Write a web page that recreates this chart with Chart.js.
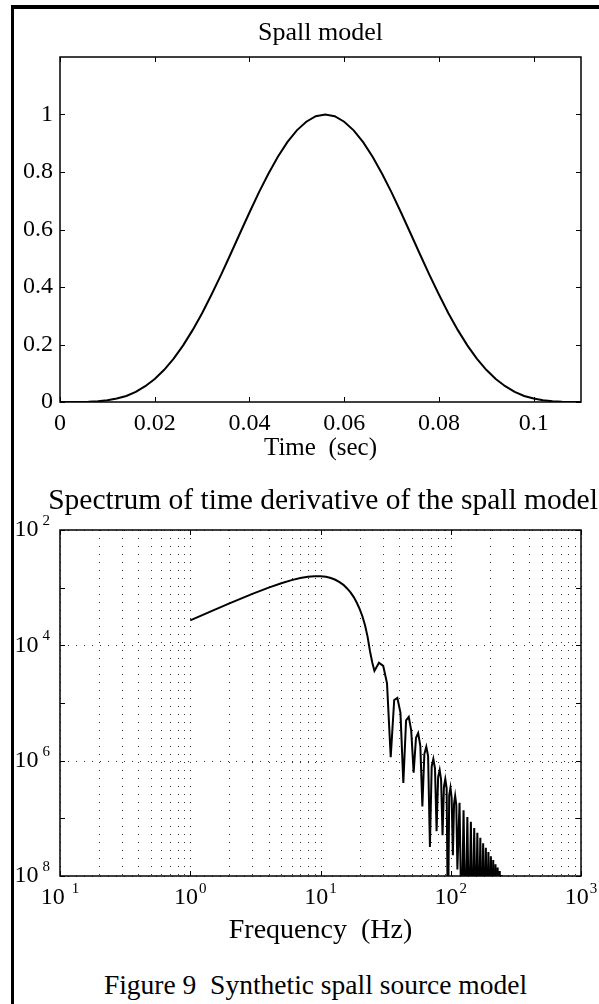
<!DOCTYPE html>
<html>
<head>
<meta charset="utf-8">
<title>Synthetic spall source model</title>
<script src="https://cdn.jsdelivr.net/npm/chart.js@4.4.0/dist/chart.umd.min.js"></script>
<style>
  html, body { margin: 0; padding: 0; background: #fff; }
  body { width: 599px; height: 1004px; position: relative; overflow: hidden; font-family: 'Liberation Serif', 'Times New Roman', serif; }
  #frame { position: absolute; left: 11px; top: 5px; width: 700px; height: 1100px; border-left: 3px solid #000; border-top: 4px solid #000; }
  .wrap { position: absolute; left: 0; width: 599px; }
  #spec-title { position: absolute; left: 0; width: 646px; top: 485px; text-align: center; font-size: 29.5px; line-height: 1; color: #000; white-space: nowrap; }
  #caption { position: absolute; left: 55px; width: 521px; top: 969px; text-align: center; font-size: 27.5px; color: #000; white-space: pre; }
</style>
</head>
<body>
<div id="frame"></div>
<div class="wrap" style="top:0;height:470px"><canvas id="spall" width="599" height="470"></canvas></div>
<div class="wrap" style="top:470px;height:490px"><canvas id="spectrum" width="599" height="490"></canvas></div>
<div id="spec-title">Spectrum of time derivative of the spall model</div>
<div id="caption">Figure 9  Synthetic spall source model</div>

<script>
const SERIF = "'Liberation Serif', 'Times New Roman', serif";

// top panel: spall pulse
const timeSec = [0, 0.002, 0.004, 0.006, 0.008, 0.010, 0.012, 0.014, 0.016, 0.018,
  0.020, 0.022, 0.024, 0.026, 0.028, 0.030, 0.032, 0.034, 0.036, 0.038,
  0.040, 0.042, 0.044, 0.046, 0.048, 0.050, 0.052, 0.054, 0.056, 0.058,
  0.060, 0.062, 0.064, 0.066, 0.068, 0.070, 0.072, 0.074, 0.076, 0.078,
  0.080, 0.082, 0.084, 0.086, 0.088, 0.090, 0.092, 0.094, 0.096, 0.098,
  0.100, 0.102, 0.104, 0.106, 0.108, 0.110];
const spallAmp = [0, 0, 0.0002, 0.0008, 0.0025, 0.006, 0.012, 0.021, 0.035, 0.055,
  0.080, 0.112, 0.151, 0.197, 0.250, 0.309, 0.374, 0.442, 0.514, 0.587,
  0.659, 0.729, 0.794, 0.853, 0.904, 0.945, 0.975, 0.994, 1.000, 0.994,
  0.975, 0.945, 0.904, 0.853, 0.794, 0.729, 0.659, 0.587, 0.514, 0.442,
  0.374, 0.309, 0.250, 0.197, 0.151, 0.112, 0.080, 0.055, 0.035, 0.021,
  0.012, 0.006, 0.0025, 0.0008, 0.0002, 0];
const timeTicks = [0, 0.02, 0.04, 0.06, 0.08, 0.1];
const ampTicks = [0, 0.2, 0.4, 0.6, 0.8, 1];

// bottom panel: spectrum of the time derivative
const specFreq = [1, 1.5, 2, 3, 4, 5, 6, 7, 8, 9, 10, 11, 12, 13, 14, 15, 16, 17, 18, 19,
  20, 21, 22, 23, 24, 25, 25.95,
  28.1, 30.3, 32.4, 34.6,
  36.8, 38.9, 41.1, 43.25,
  45.4, 47.6, 49.7, 51.9,
  54.1, 56.2, 58.4, 60.55,
  62.7, 64.9, 67.0, 69.2,
  71.4, 73.5, 75.7, 77.85,
  80.0, 82.2, 84.3, 86.5,
  88.7, 90.8, 93.0, 95.15,
  97.3, 99.5, 101.6, 103.8,
  106.0, 108.1, 110.3, 112.45,
  116.8, 121.1, 125.4, 129.75, 134.1, 138.4,
  142.7, 147.05, 151.4, 155.7, 160.0, 164.35, 168.7, 173.0, 177.3, 181.65,
  186.0, 190.3, 194.6, 198.95, 203.3, 207.6, 211.9, 216.25, 220.6, 224.9,
  229.2, 233.55, 237.9, 242.2, 246.5, 250.85, 255.2, 259.5];
const specAmp = [2.71e-4, 4.04e-4, 5.33e-4, 7.79e-4, 1.00e-3, 1.19e-3, 1.35e-3, 1.47e-3, 1.54e-3, 1.58e-3,
  1.58e-3, 1.54e-3, 1.47e-3, 1.37e-3, 1.25e-3, 1.12e-3, 9.70e-4, 8.28e-4, 6.85e-4, 5.48e-4,
  4.23e-4, 3.16e-4, 2.20e-4, 1.40e-4, 7.84e-5, 5.0e-5, 3.6e-5,
  5.0e-5, 4.4e-5, 2.2e-5, 1.15e-6,
  1.13e-5, 1.23e-5, 6.8e-6, 4.1e-7,
  5.0e-6, 5.75e-6, 3.35e-6, 6.2e-7,
  2.5e-6, 3.0e-6, 1.8e-6, 1.6e-7,
  1.3e-6, 1.74e-6, 1.2e-6, 3.2e-8,
  8.0e-7, 1.07e-6, 7.3e-7, 6.0e-8,
  5.2e-7, 6.9e-7, 4.7e-7, 5.1e-8,
  3.6e-7, 4.8e-7, 3.3e-7, 1e-9,
  2.5e-7, 3.4e-7, 2.3e-7, 2.3e-8,
  1.8e-7, 2.45e-7, 1.7e-7, 1.3e-8,
  1.86e-7, 1e-9, 1.38e-7, 1e-9, 1.05e-7, 1e-9,
  8.7e-8, 1e-9, 6.8e-8, 1e-9, 5.6e-8, 1e-9, 4.6e-8, 1e-9, 3.7e-8, 1e-9,
  3.1e-8, 1e-9, 2.6e-8, 1e-9, 2.2e-8, 1e-9, 1.9e-8, 1e-9, 1.6e-8, 1e-9,
  1.4e-8, 1e-9, 1.22e-8, 1e-9, 1.04e-8, 1e-9, 9e-9, 1e-9];
const freqTicks = [0.1, 1, 10, 100, 1000];
const freqTickExp = ['1', '0', '1', '2', '3'];
const specTicks = [1e-2, 1e-4, 1e-6, 1e-8];
const specTickExp = ['2', '4', '6', '8'];
const specTickMarks = [1e-2, 1e-3, 1e-4, 1e-5, 1e-6, 1e-7, 1e-8];

// dotted grid at every 1..9 x decade
const freqGrid = [];
freqTicks.slice(0, -1).forEach(d => { for (let k = 1; k < 10; k++) freqGrid.push(d * k); });
freqGrid.push(1000);

// frame, inward tick marks and dotted grid (MATLAB look)
const frameTicks = {
  id: 'frameTicks',
  beforeDatasetsDraw(chart, args, opts) {
    if (!opts.gridX) return;
    const { ctx, chartArea: a, scales: { x, y } } = chart;
    ctx.save();
    ctx.strokeStyle = '#333';
    ctx.lineWidth = 1;
    ctx.setLineDash([1, 7]);
    opts.gridX.forEach(v => {
      const px = Math.round(x.getPixelForValue(v)) + 0.5;
      ctx.beginPath(); ctx.moveTo(px, a.top); ctx.lineTo(px, a.bottom); ctx.stroke();
    });
    opts.gridY.forEach(v => {
      const py = Math.round(y.getPixelForValue(v)) + 0.5;
      ctx.beginPath(); ctx.moveTo(a.left, py); ctx.lineTo(a.right, py); ctx.stroke();
    });
    ctx.restore();
  },
  afterDatasetsDraw(chart, args, opts) {
    const { ctx, chartArea: a, scales: { x, y } } = chart;
    const len = 5;
    ctx.save();
    ctx.strokeStyle = '#000';
    ctx.lineWidth = 1.5;
    ctx.strokeRect(a.left, a.top, a.right - a.left, a.bottom - a.top);
    ctx.lineWidth = 1;
    ctx.beginPath();
    (opts.xTicks || []).forEach(v => {
      const px = Math.round(x.getPixelForValue(v)) + 0.5;
      ctx.moveTo(px, a.bottom); ctx.lineTo(px, a.bottom - len);
      ctx.moveTo(px, a.top); ctx.lineTo(px, a.top + len);
    });
    (opts.yTicks || []).forEach(v => {
      const py = Math.round(y.getPixelForValue(v)) + 0.5;
      ctx.moveTo(a.left, py); ctx.lineTo(a.left + len, py);
      ctx.moveTo(a.right, py); ctx.lineTo(a.right - len, py);
    });
    ctx.stroke();
    ctx.restore();
  }
};

// "10" with a raised exponent for the log axes
const logLabels = {
  id: 'logLabels',
  afterDraw(chart, args, opts) {
    if (!opts.x) return;
    const { ctx, chartArea: a, scales: { x, y } } = chart;
    const big = '24px ' + SERIF, small = '15px ' + SERIF;
    ctx.save();
    ctx.fillStyle = '#000';
    ctx.textBaseline = 'middle';
    ctx.textAlign = 'left';
    opts.x.values.forEach((v, i) => {
      const px = x.getPixelForValue(v);
      const exp = opts.x.exp[i];
      const gap = i === 0 ? 7 : 1;
      ctx.font = big; const w1 = ctx.measureText('10').width;
      ctx.font = small; const w2 = ctx.measureText(exp).width;
      const left = px - (w1 + gap + w2) / 2;
      ctx.font = big; ctx.fillText('10', left, a.bottom + 22);
      ctx.font = small; ctx.fillText(exp, left + w1 + gap, a.bottom + 13);
    });
    opts.y.values.forEach((v, i) => {
      const py = y.getPixelForValue(v);
      const exp = opts.y.exp[i];
      ctx.font = small; const w2 = ctx.measureText(exp).width;
      ctx.font = big; const w1 = ctx.measureText('10').width;
      const right = a.left - 10;
      ctx.fillText('10', right - w2 - 4 - w1, py);
      ctx.font = small; ctx.fillText(exp, right - w2, py - 9);
    });
    ctx.restore();
  }
};

Chart.register(frameTicks, logLabels);

const fmt = v => String(Number(v.toFixed(3)));

new Chart(document.getElementById('spall'), {
  type: 'scatter',
  data: {
    datasets: [{
      data: timeSec.map((t, i) => ({ x: t, y: spallAmp[i] })),
      showLine: true,
      borderColor: '#000',
      borderWidth: 2,
      pointRadius: 0,
      tension: 0
    }]
  },
  options: {
    responsive: false,
    animation: false,
    devicePixelRatio: 1,
    layout: { padding: { left: 0, right: 18, top: 0, bottom: 0 } },
    plugins: {
      legend: { display: false },
      tooltip: { enabled: false },
      title: {
        display: true, text: 'Spall model', fullSize: false, color: '#000',
        font: { family: SERIF, size: 26, weight: 'normal', lineHeight: 1 },
        padding: { top: 20, bottom: 11 }
      },
      frameTicks: { xTicks: timeTicks, yTicks: ampTicks }
    },
    scales: {
      x: {
        type: 'linear', min: 0, max: 0.11,
        afterFit: s => { s.height = 68; },
        afterBuildTicks: s => { s.ticks = timeTicks.map(v => ({ value: v })); },
        grid: { display: false, drawTicks: false },
        border: { display: false },
        ticks: { color: '#000', font: { family: SERIF, size: 24 }, padding: 7, maxRotation: 0, autoSkip: false, callback: v => fmt(v) },
        title: { display: true, text: 'Time  (sec)', color: '#000', font: { family: SERIF, size: 25 }, padding: { top: 0, bottom: 7 } }
      },
      y: {
        type: 'linear', min: 0, max: 1.2,
        afterFit: s => { s.width = 60; },
        afterBuildTicks: s => { s.ticks = ampTicks.map(v => ({ value: v })); },
        grid: { display: false, drawTicks: false },
        border: { display: false },
        ticks: { color: '#000', font: { family: SERIF, size: 24 }, padding: 7, autoSkip: false, callback: v => fmt(v) }
      }
    }
  }
});

new Chart(document.getElementById('spectrum'), {
  type: 'scatter',
  data: {
    datasets: [{
      data: specFreq.map((f, i) => ({ x: f, y: specAmp[i] })),
      showLine: true,
      borderColor: '#000',
      borderWidth: 2,
      pointRadius: 0,
      tension: 0
    }]
  },
  options: {
    responsive: false,
    animation: false,
    devicePixelRatio: 1,
    layout: { padding: { left: 0, right: 18, top: 60, bottom: 0 } },
    plugins: {
      legend: { display: false },
      tooltip: { enabled: false },
      title: { display: false },
      frameTicks: { xTicks: freqTicks, yTicks: specTickMarks, gridX: freqGrid, gridY: specTicks },
      logLabels: { x: { values: freqTicks, exp: freqTickExp }, y: { values: specTicks, exp: specTickExp } }
    },
    scales: {
      x: {
        type: 'logarithmic', min: 0.1, max: 1000,
        afterFit: s => { s.height = 84; },
        grid: { display: false, drawTicks: false },
        border: { display: false },
        ticks: { display: false },
        title: { display: true, text: 'Frequency  (Hz)', color: '#000', font: { family: SERIF, size: 28 }, padding: { top: 0, bottom: 13 } }
      },
      y: {
        type: 'logarithmic', min: 1e-8, max: 1e-2,
        afterFit: s => { s.width = 60; },
        grid: { display: false, drawTicks: false },
        border: { display: false },
        ticks: { display: false }
      }
    }
  }
});
</script>
</body>
</html>
